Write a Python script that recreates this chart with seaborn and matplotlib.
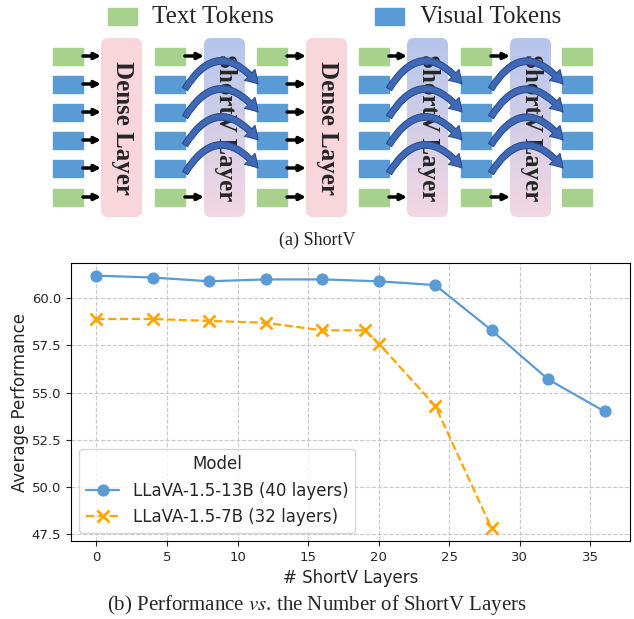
import numpy as np
import pandas as pd
import seaborn as sns
import matplotlib.pyplot as plt
from matplotlib.patches import FancyBboxPatch, FancyArrowPatch, Rectangle

# chart data
layers_13b = [0, 4, 8, 12, 16, 20, 24, 28, 32, 36]
perf_13b = [61.2, 61.1, 60.9, 61.0, 61.0, 60.9, 60.7, 58.3, 55.7, 54.0]
layers_7b = [0, 4, 8, 12, 16, 19, 20, 24, 28]
perf_7b = [58.9, 58.9, 58.8, 58.7, 58.3, 58.3, 57.6, 54.3, 47.8]
model_names = ['LLaVA-1.5-13B (40 layers)', 'LLaVA-1.5-7B (32 layers)']

df = pd.DataFrame({
    'layers': layers_13b + layers_7b,
    'perf': perf_13b + perf_7b,
    'Model': [model_names[0]] * len(layers_13b) + [model_names[1]] * len(layers_7b),
})

# diagram pieces
layer_kinds = ['Dense', 'ShortV', 'Dense', 'ShortV', 'ShortV']
row_kinds = ['text', 'vis', 'vis', 'vis', 'vis', 'text']

GREEN = '#a9d18e'
BLUE = '#5b9bd5'
PINK = '#f9d6dc'
serif = 'Liberation Serif'

sns.set_style('ticks')
plt.rcParams['mathtext.fontset'] = 'stix'
fig = plt.figure(figsize=(6.34, 6.19), dpi=100)

# background axes in pixel coordinates for the diagram
bg = fig.add_axes([0, 0, 1, 1])
bg.set_axis_off()

col_x = [53, 155, 257, 359, 461, 562]
row_y = [56, 84, 112, 140, 168, 197]
layer_x = [101, 204, 306, 407, 510]
bw, bh = 30, 17
lw_, ly0, ly1 = 41, 38, 217

# legend of the diagram
bg.add_patch(Rectangle((108, 8), 29, 17, color=GREEN))
bg.text(152, 17, 'Text Tokens', fontsize=18, family=serif, va='center', ha='left')
bg.add_patch(Rectangle((375, 8), 29, 17, color=BLUE))
bg.text(420, 17, 'Visual Tokens', fontsize=18, family=serif, va='center', ha='left')

# layers
top_col = np.array([180, 198, 236]) / 255
bot_col = np.array([243, 215, 225]) / 255
for lx, kind in zip(layer_x, layer_kinds):
    box = FancyBboxPatch((lx, ly0), lw_, ly1 - ly0,
                         boxstyle='round,pad=0,rounding_size=7',
                         fc=PINK if kind == 'Dense' else 'none', ec='none', zorder=1)
    bg.add_patch(box)
    if kind == 'ShortV':
        t = np.linspace(0, 1, 100)[:, None, None]
        grad = top_col * (1 - t) + bot_col * t
        im = bg.imshow(grad, extent=(lx, lx + lw_, ly1, ly0), origin='upper',
                       aspect='auto', zorder=1)
        im.set_clip_path(box)
    bg.text(lx + lw_ / 2 + 1, (ly0 + ly1) / 2, kind + ' Layer', rotation=-90,
            fontsize=18, family=serif, weight='bold', ha='center', va='center', zorder=3)

# tokens
for cx in col_x:
    for ry, rk in zip(row_y, row_kinds):
        bg.add_patch(Rectangle((cx, ry - bh / 2), bw, bh,
                               color=GREEN if rk == 'text' else BLUE, zorder=2))

# arrows
for i, (lx, kind) in enumerate(zip(layer_x, layer_kinds)):
    x0 = col_x[i] + bw
    for ry, rk in zip(row_y, row_kinds):
        if kind == 'Dense' or rk == 'text':
            bg.add_patch(FancyArrowPatch((x0, ry), (lx, ry), arrowstyle='-|>',
                                         mutation_scale=9, lw=2.5, color='black',
                                         shrinkA=0, shrinkB=0, zorder=4))
        else:
            bg.add_patch(FancyArrowPatch((x0, ry + 5), (col_x[i + 1] + 1, ry),
                                         connectionstyle='arc3,rad=-0.7',
                                         arrowstyle='simple,head_length=0.8,head_width=1.0,tail_width=0.4',
                                         mutation_scale=11, fc='#3f68b5', ec='#2a4f93',
                                         lw=0.8, shrinkA=0, shrinkB=0, zorder=4))

bg.text(317, 240, '(a) ShortV', fontsize=13, family=serif, ha='center', va='center')
bg.text(317, 605, '(b) Performance $\\it{vs}$. the Number of ShortV Layers',
        fontsize=15, family=serif, ha='center', va='center')
bg.set_xlim(0, 634)
bg.set_ylim(619, 0)

# line chart
ax = fig.add_axes([71 / 634, (619 - 541) / 619, (630 - 71) / 634, (541 - 263) / 619])
sns.lineplot(data=df, x='layers', y='perf', hue='Model', style='Model',
             markers=['o', 'X'], dashes=['', (3.7, 1.6)],
             palette=[BLUE, 'orange'], ax=ax, linewidth=1.6, markersize=8)


def fix_marker(line):
    c = line.get_color()
    line.set_markeredgecolor(c)
    line.set_markerfacecolor(c)
    if line.get_marker() == 'X':
        line.set_marker('x')
        line.set_markeredgewidth(2)
        line.set_markersize(8)


for line in ax.lines:
    fix_marker(line)
ax.grid(True, linestyle='--', color='#c8c8c8', linewidth=0.8)
ax.set_xlabel('# ShortV Layers', fontsize=12)
ax.set_ylabel('Average Performance', fontsize=12, labelpad=2)
ax.tick_params(labelsize=9.5)
ax.set_xticks([0, 5, 10, 15, 20, 25, 30, 35])
ax.set_yticks([47.5, 50.0, 52.5, 55.0, 57.5, 60.0])
for s in ax.spines.values():
    s.set_visible(True)
    s.set_color('black')
leg = ax.legend(title='Model', loc='lower left', fontsize=12, title_fontsize=12)
for h in leg.legend_handles:
    fix_marker(h)

fig.savefig('out.png', dpi=100)
